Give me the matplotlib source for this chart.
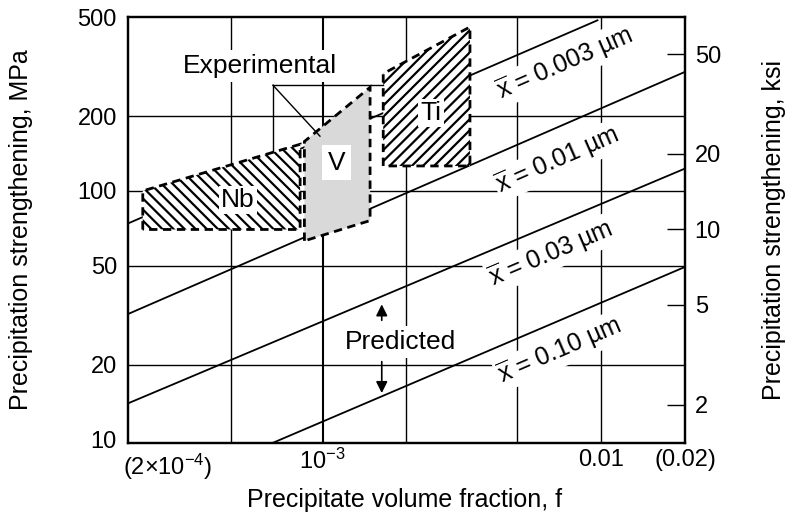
import numpy as np
import matplotlib.pyplot as plt
from matplotlib.patches import Polygon
from matplotlib.transforms import ScaledTranslation

plt.rcParams["font.family"] = ["Liberation Sans", "DejaVu Sans"]
plt.rcParams["mathtext.fontset"] = "custom"
plt.rcParams["mathtext.rm"] = "Liberation Sans"
plt.rcParams["mathtext.it"] = "Liberation Sans"
plt.rcParams["hatch.linewidth"] = 1.6

MPA_PER_KSI = 6.895

# predicted strengthening lines (end points, f and MPa)
line_sizes = ["0.003", "0.01", "0.03", "0.10"]
line_f = [[2e-4, 9.7e-3], [2e-4, 0.02], [2e-4, 0.02], [6.6e-4, 0.02]]
line_mpa = [[74, 485], [32, 301], [14, 123], [9.7, 49.5]]
label_f = [7.4e-3, 7.0e-3, 6.6e-3, 7.1e-3]
label_mpa = [325, 133, 56, 22.8]

# experimental regions (polygon corners, f and MPa)
nb_f = [2.26e-4, 2.26e-4, 8.3e-4, 8.3e-4]
nb_mpa = [70, 100, 154, 70]
v_f = [8.6e-4, 8.6e-4, 1.48e-3, 1.48e-3]
v_mpa = [63, 158, 261, 76]
ti_f = [1.65e-3, 1.65e-3, 3.38e-3, 3.38e-3]
ti_mpa = [126, 296, 456, 126]

# grid and ticks
grid_f = [4.7e-4, 1e-3, 2e-3, 5e-3, 1e-2]
grid_mpa = [20, 50, 100, 200]
mpa_ticks = [10, 20, 50, 100, 200, 500]
ksi_ticks = [2, 5, 10, 20, 50]
f_ticks = [1e-3, 1e-2, 2e-2]
f_ticklabels = [r"10$^{-3}$", "0.01", "(0.02)"]

fig = plt.figure(figsize=(7.91, 5.22), dpi=100)
ax = fig.add_axes([0.1618, 0.1513, 0.7042, 0.8161])
ax.set_xscale("log")
ax.set_yscale("log")
ax.set_xlim(2e-4, 2e-2)
ax.set_ylim(9.7, 485)

for f in grid_f:
    ax.axvline(f, color="black", lw=1.5 if f == 1e-3 else 1.0, zorder=1)
for s in grid_mpa:
    ax.axhline(s, color="black", lw=1.0, zorder=1)

# predicted lines
for fs, ss in zip(line_f, line_mpa):
    ax.plot(fs, ss, color="black", lw=1.3, zorder=2)

fig.canvas.draw()
for i, size in enumerate(line_sizes):
    p0 = ax.transData.transform((line_f[i][0], line_mpa[i][0]))
    p1 = ax.transData.transform((line_f[i][1], line_mpa[i][1]))
    angle = np.degrees(np.arctan2(p1[1] - p0[1], p1[0] - p0[0]))
    ax.text(label_f[i], label_mpa[i], r"$\overline{x}$ = " + size + " \u00b5m",
            rotation=angle, rotation_mode="anchor", ha="center", va="center",
            fontsize=18, zorder=4,
            bbox=dict(facecolor="white", edgecolor="none", pad=1.5))

# experimental regions
dash = (0, (3, 2))
ax.add_patch(Polygon(list(zip(nb_f, nb_mpa)), closed=True, facecolor="white",
                     edgecolor="black", hatch="\\\\\\", lw=2, ls=dash, zorder=3))
ax.add_patch(Polygon(list(zip(v_f, v_mpa)), closed=True, facecolor="#d9d9d9",
                     edgecolor="black", lw=2, ls=dash, zorder=3))
ax.add_patch(Polygon(list(zip(ti_f, ti_mpa)), closed=True, facecolor="white",
                     edgecolor="black", hatch="///", lw=2, ls=dash, zorder=3))

box = dict(facecolor="white", edgecolor="none", pad=1.5)
ax.text(4.97e-4, 92, "Nb", ha="center", va="center", fontsize=19, bbox=box, zorder=5)
ax.text(1.12e-3, 130, "V", ha="center", va="center", fontsize=19,
        bbox=dict(facecolor="white", edgecolor="none", pad=4), zorder=5)
ax.text(2.45e-3, 206, "Ti", ha="center", va="center", fontsize=19, bbox=box, zorder=5)

# experimental leaders
ax.text(5.96e-4, 318, "Experimental", ha="center", va="center", fontsize=19,
        bbox=dict(facecolor="white", edgecolor="none", pad=3), zorder=4)
ax.plot([6.63e-4, 6.63e-4], [266, 130], color="black", lw=1.0, zorder=2)
ax.plot([6.63e-4, 1.65e-3], [266, 266], color="black", lw=1.0, zorder=4)
ax.plot([6.63e-4, 9.78e-4], [266, 166], color="black", lw=1.0, zorder=4)

# predicted label with arrows
ax.text(1.91e-3, 24.7, "Predicted", ha="center", va="center", fontsize=19,
        bbox=dict(facecolor="white", edgecolor="none", pad=3), zorder=4)
arrow = dict(arrowstyle="-|>", color="black", lw=1.2, mutation_scale=17,
             shrinkA=0, shrinkB=0)
ax.annotate("", xy=(1.63e-3, 35), xytext=(1.63e-3, 30.2), arrowprops=arrow, zorder=5)
ax.annotate("", xy=(1.63e-3, 15.4), xytext=(1.63e-3, 20.6), arrowprops=arrow, zorder=5)

# axes styling
for sp in ax.spines.values():
    sp.set_linewidth(1.6)
ax.minorticks_off()
ax.set_yticks(mpa_ticks)
ax.set_yticklabels([str(t) for t in mpa_ticks])
ax.set_xticks(f_ticks)
ax.set_xticklabels(f_ticklabels)
ax.tick_params(axis="both", which="both", length=0, labelsize=17)
ax.tick_params(axis="y", pad=8)
ax.tick_params(axis="x", pad=4)
ax.text(2e-4, -0.02, r"(2$\times$10$^{-4}$)", transform=ax.get_xaxis_transform()
        + ScaledTranslation(40 / 100, 0, fig.dpi_scale_trans),
        ha="center", va="top", fontsize=17)
ax.set_xlabel("Precipitate volume fraction, f", fontsize=18)
ax.xaxis.set_label_coords(0.497, -0.105)
ax.set_ylabel("Precipitation strengthening, MPa", fontsize=18)
ax.yaxis.set_label_coords(-0.171, 0.5)

ax2 = ax.twinx()
ax2.set_yscale("log")
ax2.set_ylim(9.7 / MPA_PER_KSI, 485 / MPA_PER_KSI)
ax2.minorticks_off()
ax2.set_yticks(ksi_ticks)
ax2.set_yticklabels([str(t) for t in ksi_ticks])
ax2.tick_params(axis="y", direction="in", length=13, width=1.0, labelsize=17, pad=7)
ax2.set_ylabel("Precipitation strengthening, ksi", fontsize=18)
ax2.yaxis.set_label_coords(1.138, 0.5)
for sp in ax2.spines.values():
    sp.set_linewidth(1.6)

fig.savefig("out.png", dpi=100)
